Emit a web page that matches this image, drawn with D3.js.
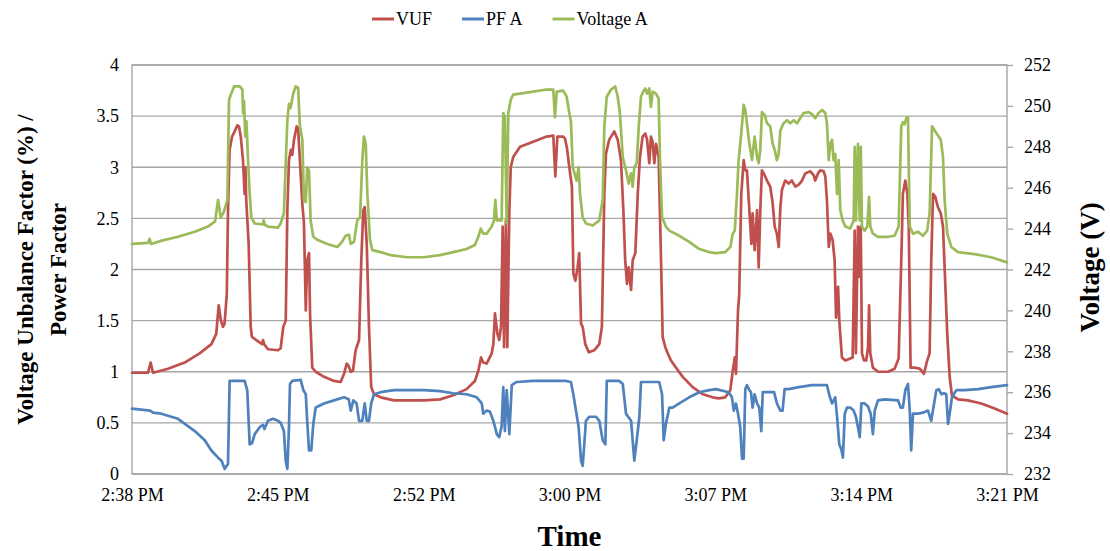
<!DOCTYPE html>
<html lang="en">
<head>
<meta charset="UTF-8">
<title>VUF, PF A and Voltage A</title>
<style>
  body { margin: 0; background: #fff; }
  svg { display: block; font-family: "Liberation Serif", "Times New Roman", serif; }
  .grid line { stroke: #a6a6a6; stroke-width: 1.4; }
  .frame { fill: none; stroke: #a6a6a6; stroke-width: 1.4; }
  .tick text { font-family: "Liberation Serif", "Times New Roman", serif; font-size: 18px; fill: #000; }
  .axis path, .axis line { stroke: #a6a6a6; stroke-width: 1.4; }
  .series { fill: none; stroke-width: 2.7; stroke-linejoin: round; stroke-linecap: round; }
  .title { font-weight: bold; fill: #000; }
  .legend text { font-size: 18px; }
</style>
</head>
<body>
<div id="chart"></div>
<script src="https://d3js.org/d3.v7.min.js"></script>
<script>
  // logging started 2:38:24 PM, times are elapsed minutes since then
  const startClock = '14:38:24'
  const spanMinutes = 43.2
  const tickStepMinutes = 7.2

  const leftTicks = [0, 0.5, 1, 1.5, 2, 2.5, 3, 3.5, 4]
  const rightTicks = [232, 234, 236, 238, 240, 242, 244, 246, 248, 250, 252]

  const seriesNames = ['VUF', 'PF A', 'Voltage A']
  const seriesColors = ['#c0504d', '#4f81bd', '#9bbb59']

  // VUF (%)
  const vuf = [[0.00,0.99],[0.79,0.99],[0.92,1.09],[1.04,0.99],[1.78,1.03],[2.60,1.09],[3.34,1.18],[3.92,1.27],[4.16,1.37],[4.28,1.65],[4.39,1.50],[4.49,1.44],[4.57,1.47],[4.68,1.76],[4.74,2.58],[4.82,3.17],[4.94,3.30],[5.07,3.35],[5.20,3.41],[5.28,3.40],[5.37,3.30],[5.48,3.07],[5.56,2.74],[5.60,3.00],[5.64,2.68],[5.76,2.25],[5.86,1.44],[5.92,1.34],[6.14,1.31],[6.42,1.27],[6.47,1.31],[6.52,1.27],[6.71,1.22],[7.21,1.21],[7.34,1.23],[7.47,1.44],[7.59,1.50],[7.67,2.58],[7.75,3.07],[7.84,3.17],[7.91,3.12],[8.00,3.27],[8.13,3.40],[8.20,3.38],[8.29,3.07],[8.41,2.64],[8.49,2.45],[8.58,1.60],[8.65,2.09],[8.74,2.16],[8.79,1.57],[8.90,1.04],[9.07,1.00],[9.48,0.95],[9.97,0.91],[10.30,0.90],[10.47,0.98],[10.60,1.08],[10.69,1.06],[10.80,1.00],[10.91,1.01],[11.04,1.21],[11.21,1.31],[11.32,2.09],[11.42,2.58],[11.49,2.61],[11.59,2.25],[11.70,1.44],[11.81,0.85],[11.95,0.78],[12.28,0.75],[12.94,0.72],[14.42,0.72],[15.21,0.73],[15.86,0.77],[16.52,0.83],[16.93,0.91],[17.10,1.01],[17.23,1.14],[17.34,1.09],[17.51,1.08],[17.76,1.18],[17.84,1.27],[17.92,1.57],[18.04,1.37],[18.13,1.31],[18.22,1.44],[18.30,2.42],[18.37,1.24],[18.46,2.48],[18.53,1.24],[18.63,2.58],[18.70,3.00],[18.82,3.10],[19.16,3.20],[19.81,3.25],[20.47,3.30],[20.80,3.31],[20.90,2.91],[21.00,3.30],[21.29,3.30],[21.38,3.28],[21.48,3.18],[21.59,3.00],[21.72,2.81],[21.79,1.96],[21.89,1.89],[22.00,2.02],[22.08,2.16],[22.17,1.47],[22.25,1.44],[22.38,1.27],[22.55,1.19],[22.82,1.21],[23.07,1.27],[23.20,1.44],[23.32,2.74],[23.40,3.13],[23.56,3.27],[23.81,3.35],[23.98,3.27],[24.14,3.07],[24.26,2.58],[24.35,2.09],[24.44,1.86],[24.52,2.02],[24.64,1.80],[24.72,2.09],[24.85,2.16],[24.97,2.74],[25.08,3.10],[25.21,3.30],[25.34,3.33],[25.43,3.27],[25.54,3.04],[25.62,3.30],[25.70,3.25],[25.79,3.04],[25.87,3.23],[26.00,3.10],[26.12,2.09],[26.20,1.34],[26.33,1.24],[26.45,1.18],[26.61,1.11],[26.86,1.04],[27.19,0.95],[27.68,0.85],[28.18,0.78],[28.67,0.75],[28.97,0.74],[29.29,0.75],[29.54,0.82],[29.66,1.01],[29.76,1.14],[29.82,0.98],[29.92,1.60],[29.98,1.76],[30.08,2.74],[30.20,3.07],[30.28,2.97],[30.36,2.97],[30.45,2.68],[30.58,2.25],[30.64,2.55],[30.74,2.19],[30.86,2.58],[30.94,2.02],[31.02,2.58],[31.10,2.97],[31.24,2.92],[31.35,2.87],[31.51,2.81],[31.63,2.65],[31.73,2.42],[31.84,2.35],[31.93,2.22],[32.01,2.61],[32.09,2.78],[32.25,2.87],[32.42,2.84],[32.58,2.87],[32.75,2.81],[32.92,2.83],[33.08,2.87],[33.24,2.94],[33.49,2.96],[33.66,2.92],[33.73,2.87],[33.87,2.94],[33.98,2.97],[34.15,2.96],[34.23,2.91],[34.31,2.68],[34.40,2.22],[34.48,2.35],[34.59,2.29],[34.69,2.09],[34.76,1.53],[34.86,1.83],[34.92,1.50],[35.05,1.14],[35.22,1.11],[35.46,1.13],[35.58,1.14],[35.68,2.38],[35.74,1.18],[35.84,2.42],[35.89,1.93],[35.98,2.42],[36.04,1.18],[36.14,1.11],[36.25,1.11],[36.34,1.24],[36.39,1.65],[36.45,1.18],[36.58,1.04],[36.83,1.00],[37.32,1.00],[37.65,1.03],[37.85,1.13],[37.98,2.09],[38.06,2.74],[38.18,2.87],[38.28,2.74],[38.35,2.42],[38.44,1.04],[38.64,1.04],[38.89,1.03],[39.10,0.98],[39.26,1.11],[39.38,1.18],[39.46,2.09],[39.55,2.74],[39.66,2.71],[39.79,2.61],[39.93,2.55],[40.04,2.42],[40.12,2.02],[40.25,1.37],[40.37,0.95],[40.48,0.77],[40.78,0.73],[41.27,0.72],[41.93,0.69],[42.59,0.64],[43.20,0.59]]

  // power factor, phase A
  const pfA = [[0.00,0.64],[0.89,0.62],[1.04,0.60],[1.45,0.59],[2.27,0.54],[3.10,0.42],[3.59,0.33],[3.92,0.23],[4.25,0.16],[4.42,0.13],[4.58,0.05],[4.74,0.10],[4.82,0.91],[5.56,0.91],[5.69,0.82],[5.81,0.29],[5.92,0.30],[6.06,0.39],[6.31,0.46],[6.47,0.48],[6.54,0.44],[6.71,0.52],[6.96,0.54],[7.21,0.52],[7.34,0.50],[7.50,0.42],[7.59,0.13],[7.67,0.05],[7.75,0.46],[7.80,0.88],[7.91,0.91],[8.33,0.92],[8.46,0.82],[8.58,0.78],[8.65,0.52],[8.74,0.23],[8.85,0.23],[8.95,0.49],[9.07,0.65],[9.48,0.69],[9.97,0.72],[10.47,0.75],[10.70,0.73],[10.80,0.62],[10.93,0.72],[11.09,0.69],[11.21,0.52],[11.37,0.52],[11.49,0.69],[11.59,0.52],[11.70,0.52],[11.81,0.69],[11.95,0.78],[12.28,0.80],[12.94,0.82],[14.42,0.82],[15.21,0.81],[15.86,0.79],[16.52,0.78],[17.02,0.75],[17.27,0.69],[17.34,0.59],[17.51,0.62],[17.67,0.61],[17.84,0.52],[17.92,0.46],[18.01,0.39],[18.13,0.36],[18.25,0.47],[18.33,0.85],[18.41,0.42],[18.50,0.82],[18.63,0.39],[18.75,0.87],[18.99,0.90],[19.81,0.91],[20.80,0.91],[21.43,0.91],[21.67,0.90],[21.79,0.78],[21.92,0.62],[22.05,0.46],[22.17,0.13],[22.25,0.08],[22.33,0.29],[22.41,0.52],[22.58,0.56],[22.91,0.56],[23.07,0.52],[23.24,0.33],[23.37,0.29],[23.44,0.91],[24.06,0.91],[24.23,0.88],[24.39,0.59],[24.64,0.52],[24.80,0.13],[24.92,0.33],[25.05,0.56],[25.13,0.90],[26.03,0.90],[26.17,0.78],[26.25,0.33],[26.36,0.49],[26.53,0.65],[26.69,0.65],[27.02,0.69],[27.51,0.75],[28.01,0.80],[28.50,0.82],[28.83,0.83],[29.46,0.80],[29.62,0.75],[29.71,0.62],[29.82,0.69],[29.92,0.59],[30.03,0.46],[30.12,0.15],[30.20,0.15],[30.28,0.83],[30.36,0.87],[30.48,0.82],[30.56,0.80],[30.64,0.65],[30.74,0.78],[30.86,0.69],[30.97,0.65],[31.07,0.42],[31.14,0.80],[31.70,0.80],[31.84,0.69],[32.01,0.62],[32.12,0.62],[32.22,0.83],[32.42,0.83],[32.92,0.85],[33.57,0.87],[34.31,0.87],[34.43,0.77],[34.56,0.69],[34.72,0.75],[34.81,0.56],[34.92,0.29],[35.02,0.24],[35.10,0.16],[35.19,0.59],[35.30,0.65],[35.46,0.65],[35.63,0.62],[35.74,0.56],[35.84,0.46],[35.93,0.36],[36.01,0.69],[36.17,0.69],[36.34,0.66],[36.47,0.59],[36.58,0.39],[36.67,0.62],[36.83,0.72],[37.16,0.73],[37.82,0.72],[37.95,0.65],[38.06,0.65],[38.18,0.82],[38.31,0.88],[38.40,0.62],[38.47,0.23],[38.56,0.59],[38.81,0.59],[39.05,0.60],[39.30,0.62],[39.46,0.52],[39.60,0.69],[39.71,0.82],[39.83,0.83],[39.96,0.78],[40.09,0.79],[40.20,0.78],[40.29,0.49],[40.37,0.59],[40.48,0.75],[40.70,0.82],[41.11,0.82],[41.77,0.83],[42.42,0.85],[43.20,0.87]]

  // phase A voltage (V), right axis
  const voltageA = [[0.00,243.25],[0.79,243.30],[0.87,243.50],[0.94,243.25],[1.43,243.40],[2.27,243.60],[3.10,243.85],[3.75,244.10],[4.10,244.35],[4.25,245.40],[4.38,244.55],[4.53,244.80],[4.71,245.40],[4.79,250.30],[4.90,250.60],[5.04,250.95],[5.32,250.95],[5.45,250.80],[5.48,249.65],[5.53,250.25],[5.59,248.50],[5.65,249.25],[5.73,247.35],[5.81,245.70],[5.89,244.55],[6.06,244.25],[6.47,244.20],[6.50,244.40],[6.55,244.20],[6.71,244.10],[7.21,244.05],[7.34,244.25],[7.50,244.75],[7.67,249.30],[7.75,250.10],[7.83,249.90],[7.96,250.60],[8.08,250.95],[8.20,250.90],[8.29,249.00],[8.41,248.35],[8.49,245.40],[8.58,245.30],[8.65,247.00],[8.74,246.85],[8.82,244.40],[8.95,243.60],[9.15,243.45],[9.64,243.25],[10.14,243.10],[10.37,243.35],[10.55,243.65],[10.71,243.70],[10.80,243.25],[10.96,243.35],[11.12,244.40],[11.26,244.55],[11.37,247.35],[11.45,248.50],[11.54,248.15],[11.62,245.70],[11.75,243.45],[11.86,242.95],[12.28,242.85],[12.77,242.70],[13.59,242.60],[14.42,242.60],[15.21,242.70],[15.86,242.85],[16.52,243.00],[16.93,243.20],[17.10,243.60],[17.22,244.00],[17.34,243.75],[17.51,243.75],[17.76,244.10],[17.87,244.40],[17.94,245.40],[18.01,244.40],[18.25,244.40],[18.33,249.65],[18.41,249.45],[18.50,244.25],[18.58,249.65],[18.70,250.30],[18.82,250.55],[19.16,250.60],[19.81,250.70],[20.47,250.80],[20.80,250.80],[20.88,249.45],[20.97,250.70],[21.29,250.75],[21.46,250.45],[21.59,249.65],[21.67,249.25],[21.76,247.00],[21.85,246.70],[21.95,246.35],[22.05,247.00],[22.12,245.70],[22.25,244.55],[22.41,244.25],[22.75,244.15],[23.07,244.40],[23.24,245.40],[23.32,249.00],[23.44,250.45],[23.65,250.80],[23.86,250.95],[23.98,250.45],[24.09,249.65],[24.23,247.50],[24.39,246.85],[24.52,246.20],[24.64,246.70],[24.72,246.05],[24.80,247.00],[24.92,247.20],[25.02,249.00],[25.13,250.45],[25.24,250.70],[25.34,250.85],[25.43,250.60],[25.54,250.85],[25.62,249.95],[25.71,250.70],[25.87,250.60],[26.00,250.35],[26.07,247.35],[26.17,244.55],[26.36,244.10],[26.53,243.90],[27.02,243.65],[27.51,243.35],[28.01,243.00],[28.50,242.85],[28.83,242.80],[29.29,242.85],[29.54,243.10],[29.66,243.75],[29.76,243.90],[29.87,245.70],[29.95,247.35],[30.08,248.65],[30.20,250.05],[30.28,249.80],[30.36,249.15],[30.48,248.15],[30.61,247.35],[30.74,248.50],[30.86,247.50],[30.94,247.20],[31.02,247.85],[31.10,249.70],[31.24,249.55],[31.35,249.15],[31.51,249.00],[31.63,248.15],[31.73,247.85],[31.84,247.35],[31.93,247.65],[32.01,248.80],[32.17,249.15],[32.34,249.30],[32.50,249.15],[32.67,249.30],[32.83,249.15],[32.99,249.40],[33.16,249.65],[33.41,249.70],[33.57,249.60],[33.73,249.40],[33.90,249.65],[34.07,249.80],[34.23,249.65],[34.31,249.15],[34.40,247.35],[34.48,248.15],[34.56,248.35],[34.64,247.35],[34.72,247.65],[34.81,245.70],[34.89,247.35],[34.97,244.90],[35.09,244.40],[35.22,244.10],[35.46,244.00],[35.63,244.40],[35.68,248.00],[35.74,244.40],[35.84,248.15],[35.93,244.40],[35.98,248.00],[36.04,244.10],[36.17,243.90],[36.30,244.10],[36.39,245.55],[36.45,244.10],[36.58,243.75],[36.83,243.60],[37.32,243.60],[37.65,243.65],[37.85,244.10],[37.98,249.00],[38.06,249.20],[38.14,249.10],[38.23,249.40],[38.31,249.45],[38.40,244.10],[38.56,243.75],[38.81,243.85],[39.05,243.65],[39.26,243.90],[39.38,244.75],[39.50,249.00],[39.63,248.80],[39.79,248.55],[39.93,248.35],[40.04,247.50],[40.12,245.40],[40.25,243.75],[40.45,243.10],[40.78,242.85],[41.60,242.75],[42.42,242.60],[43.20,242.35]]

  const W = 1110, H = 551
  const m = { top: 65, right: 103, bottom: 77, left: 132 }
  const w = W - m.left - m.right, h = H - m.top - m.bottom

  const t0 = d3.timeParse('%H:%M:%S')(startClock)
  const at = mins => new Date(t0.getTime() + mins * 60000)

  const x = d3.scaleTime().domain([t0, at(spanMinutes)]).range([0, w])
  const yL = d3.scaleLinear().domain([0, 4]).range([h, 0])
  const yR = d3.scaleLinear().domain([232, 252]).range([h, 0])

  const svg = d3.select('#chart').append('svg')
    .attr('width', W).attr('height', H)
  const g = svg.append('g').attr('transform', `translate(${m.left},${m.top})`)

  // gridlines
  g.append('g').attr('class', 'grid')
    .selectAll('line').data(leftTicks).enter().append('line')
    .attr('x1', 0).attr('x2', w)
    .attr('y1', d => yL(d)).attr('y2', d => yL(d))
  g.append('rect').attr('class', 'frame').attr('width', w).attr('height', h)

  // axes
  const tickDates = d3.range(0, spanMinutes + 0.01, tickStepMinutes).map(at)
  const xAxis = g.append('g').attr('class', 'axis')
    .attr('transform', `translate(0,${h})`)
    .call(d3.axisBottom(x).tickValues(tickDates).tickFormat(d3.timeFormat('%-I:%M %p')).tickSize(0).tickPadding(14))
  xAxis.select('.domain').remove()

  const yAxisL = g.append('g').attr('class', 'axis')
    .call(d3.axisLeft(yL).tickValues(leftTicks).tickFormat(d => d).tickSize(0).tickPadding(13))
  yAxisL.select('.domain').remove()

  const yAxisR = g.append('g').attr('class', 'axis')
    .attr('transform', `translate(${w},0)`)
    .call(d3.axisRight(yR).tickValues(rightTicks).tickSize(6).tickSizeOuter(0).tickPadding(11))
  yAxisR.select('.domain').remove()

  // lines
  const lineL = d3.line().x(d => x(at(d[0]))).y(d => yL(d[1]))
  const lineR = d3.line().x(d => x(at(d[0]))).y(d => yR(d[1]))
  g.append('path').attr('class', 'series').attr('stroke', seriesColors[0]).attr('d', lineL(vuf))
  g.append('path').attr('class', 'series').attr('stroke', seriesColors[1]).attr('d', lineL(pfA))
  g.append('path').attr('class', 'series').attr('stroke', seriesColors[2]).attr('d', lineR(voltageA))

  // axis titles
  svg.append('text').attr('class', 'title')
    .attr('x', m.left + w / 2).attr('y', 546)
    .attr('text-anchor', 'middle').style('font-size', '29px')
    .text('Time')

  const leftTitle = svg.append('text').attr('class', 'title')
    .attr('transform', `translate(33,${m.top + h / 2}) rotate(-90)`)
    .attr('text-anchor', 'middle').style('font-size', '23px')
  leftTitle.append('tspan').attr('x', 0).attr('dy', 0).text('Voltage Unbalance Factor (%) /')
  leftTitle.append('tspan').attr('x', 0).attr('dy', 33).text('Power Factor')

  svg.append('text').attr('class', 'title')
    .attr('transform', `translate(1099,${m.top + h / 2 - 2}) rotate(-90)`)
    .attr('text-anchor', 'middle').style('font-size', '27px')
    .text('Voltage (V)')

  // legend
  const legend = svg.append('g').attr('class', 'legend')
  let lx = 372
  seriesNames.forEach((name, i) => {
    legend.append('line')
      .attr('x1', lx).attr('x2', lx + 22).attr('y1', 19).attr('y2', 19)
      .attr('stroke', seriesColors[i]).attr('stroke-width', 3)
    const t = legend.append('text').attr('x', lx + 24).attr('y', 25).text(name)
    lx += 24 + t.node().getComputedTextLength() + 30
  })
</script>
</body>
</html>
